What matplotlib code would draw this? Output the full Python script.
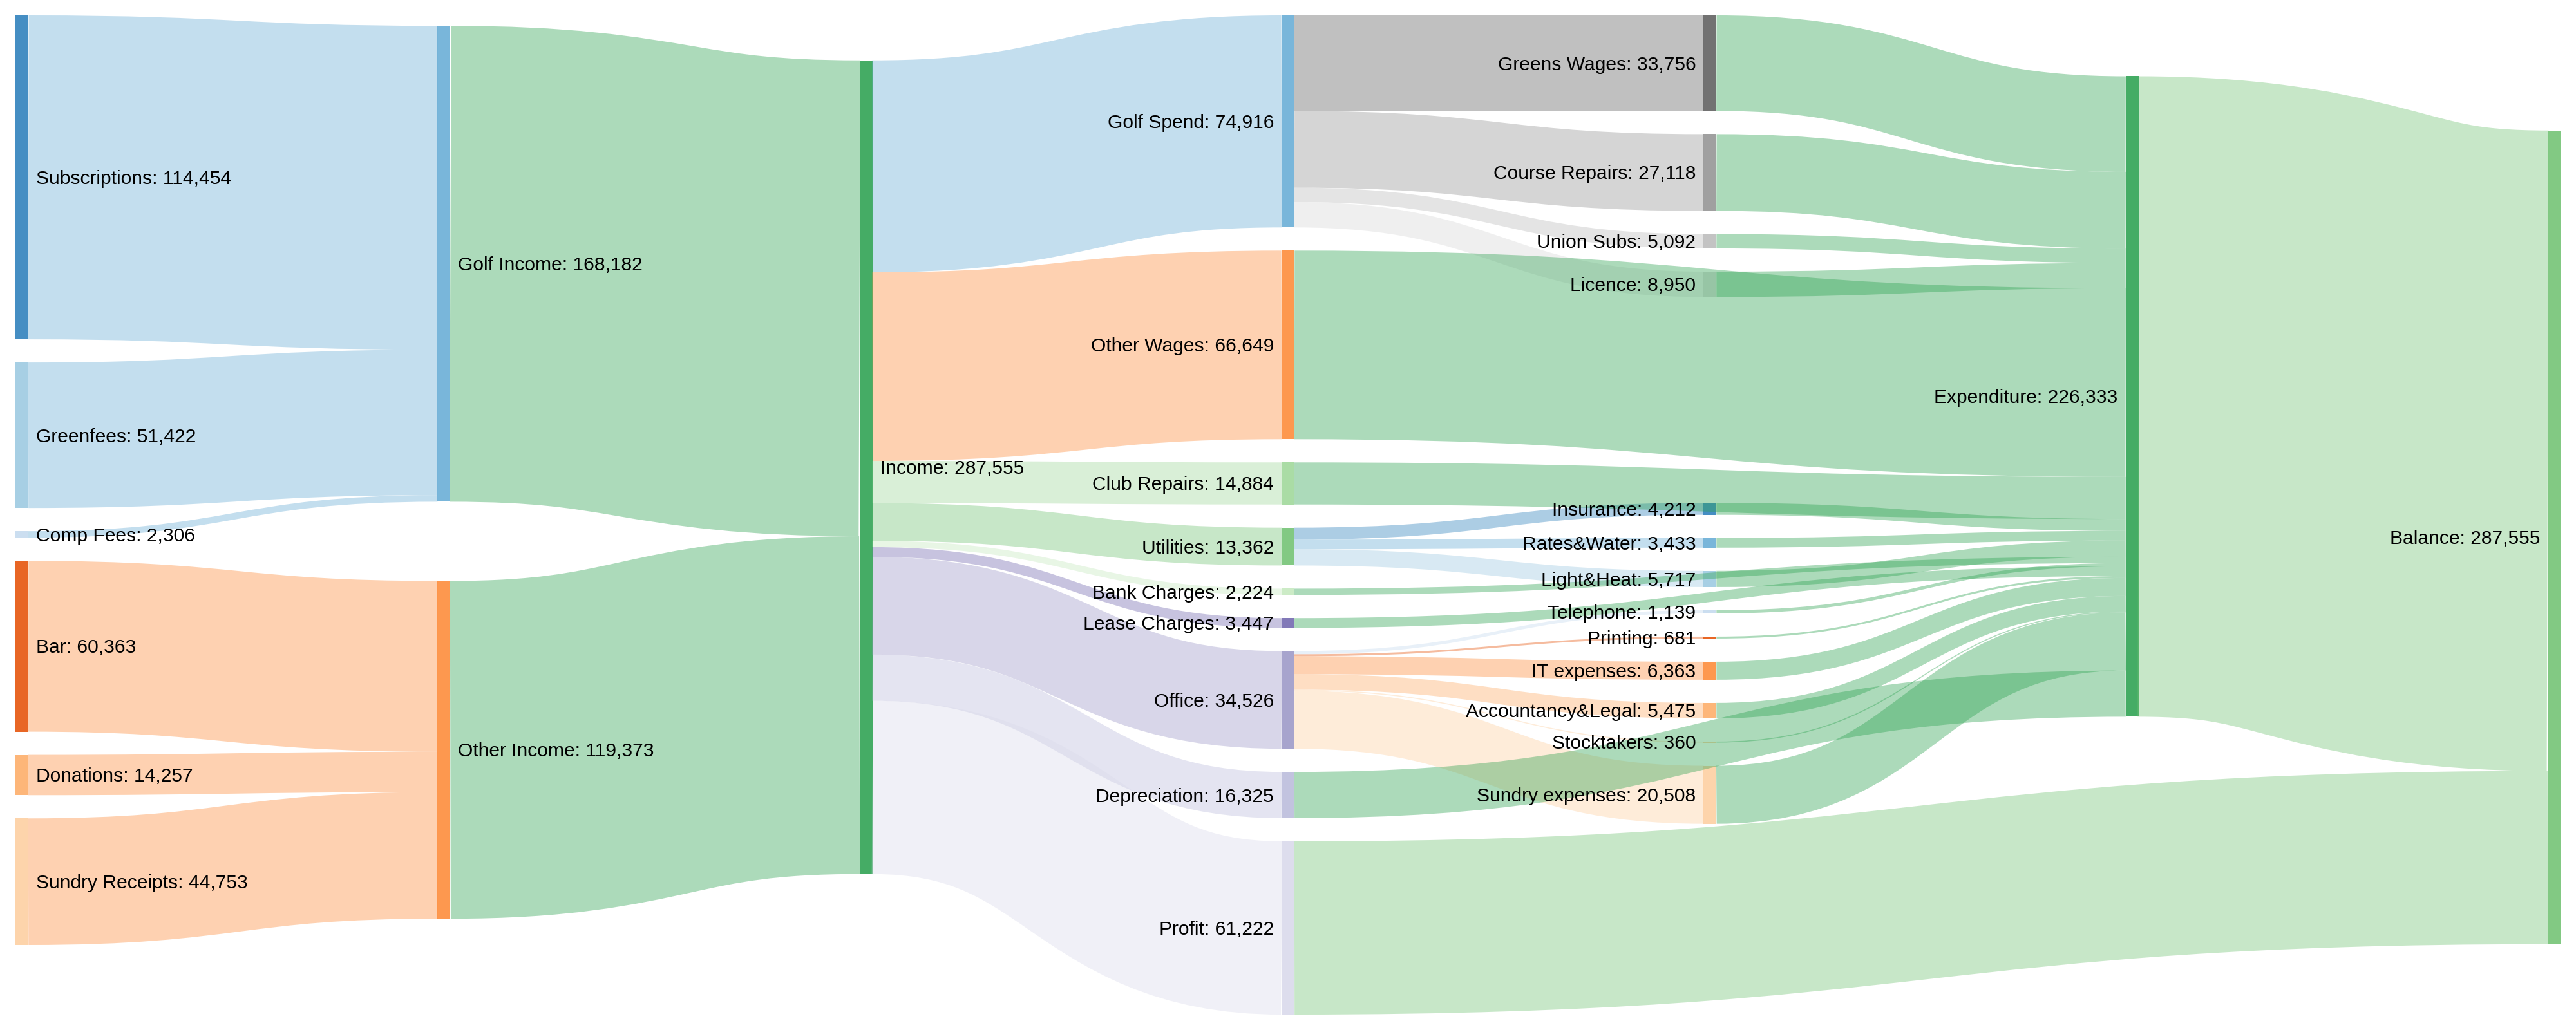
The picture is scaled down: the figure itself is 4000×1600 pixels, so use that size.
import matplotlib.pyplot as plt
from matplotlib.path import Path
from matplotlib.patches import PathPatch, Rectangle

# Nodes in the order of the data (nodes keep this order inside a column)
node_names = ['Subscriptions', 'Greenfees', 'Comp Fees', 'Bar', 'Donations', 'Sundry Receipts',
              'Golf Income', 'Other Income', 'Income',
              'Golf Spend', 'Other Wages', 'Club Repairs', 'Utilities', 'Bank Charges',
              'Lease Charges', 'Office', 'Depreciation', 'Profit',
              'Greens Wages', 'Course Repairs', 'Union Subs', 'Licence', 'Insurance',
              'Rates&Water', 'Light&Heat', 'Telephone', 'Printing', 'IT expenses',
              'Accountancy&Legal', 'Stocktakers', 'Sundry expenses',
              'Expenditure', 'Balance']

node_colors = ['#3182bd', '#9ecae1', '#c6dbef', '#e6550d', '#fdae6b', '#fdd0a2',
               '#6baed6', '#fd8d3c', '#31a354',
               '#6baed6', '#fd8d3c', '#a1d99b', '#74c476', '#c7e9c0',
               '#756bb1', '#9e9ac8', '#bcbddc', '#dadaeb',
               '#636363', '#969696', '#bdbdbd', '#d9d9d9', '#3182bd',
               '#6baed6', '#9ecae1', '#c6dbef', '#e6550d', '#fd8d3c',
               '#fdae6b', '#fdd0a2', '#fdd0a2',
               '#31a354', '#74c476']

link_sources = ['Subscriptions', 'Greenfees', 'Comp Fees',
                'Bar', 'Donations', 'Sundry Receipts',
                'Golf Income', 'Other Income',
                'Income', 'Income', 'Income', 'Income', 'Income', 'Income', 'Income', 'Income', 'Income',
                'Golf Spend', 'Golf Spend', 'Golf Spend', 'Golf Spend',
                'Utilities', 'Utilities', 'Utilities',
                'Office', 'Office', 'Office', 'Office', 'Office', 'Office',
                'Other Wages', 'Club Repairs', 'Bank Charges', 'Lease Charges', 'Depreciation',
                'Greens Wages', 'Course Repairs', 'Union Subs', 'Licence', 'Insurance',
                'Rates&Water', 'Light&Heat', 'Telephone', 'Printing', 'IT expenses',
                'Accountancy&Legal', 'Stocktakers', 'Sundry expenses',
                'Expenditure', 'Profit']
link_targets = ['Golf Income', 'Golf Income', 'Golf Income',
                'Other Income', 'Other Income', 'Other Income',
                'Income', 'Income',
                'Golf Spend', 'Other Wages', 'Club Repairs', 'Utilities', 'Bank Charges',
                'Lease Charges', 'Office', 'Depreciation', 'Profit',
                'Greens Wages', 'Course Repairs', 'Union Subs', 'Licence',
                'Insurance', 'Rates&Water', 'Light&Heat',
                'Telephone', 'Printing', 'IT expenses', 'Accountancy&Legal', 'Stocktakers',
                'Sundry expenses',
                'Expenditure', 'Expenditure', 'Expenditure', 'Expenditure', 'Expenditure',
                'Expenditure', 'Expenditure', 'Expenditure', 'Expenditure', 'Expenditure',
                'Expenditure', 'Expenditure', 'Expenditure', 'Expenditure', 'Expenditure',
                'Expenditure', 'Expenditure', 'Expenditure',
                'Balance', 'Balance']
link_values = [114454, 51422, 2306,
               60363, 14257, 44753,
               168182, 119373,
               74916, 66649, 14884, 13362, 2224, 3447, 34526, 16325, 61222,
               33756, 27118, 5092, 8950,
               4212, 3433, 5717,
               1139, 681, 6363, 5475, 360, 20508,
               66649, 14884, 2224, 3447, 16325,
               33756, 27118, 5092, 8950, 4212,
               3433, 5717, 1139, 681, 6363,
               5475, 360, 20508,
               226333, 61222]

# layout settings (pixels)
W, H = 4000, 1600
X0, Y0, X1, Y1 = 24, 24, 3976, 1576
NODE_W = 20
PAD = 36
ITER = 6

# --- sankey layout (d3-sankey steps, node order fixed) ---
nodes = [{'name': n, 'color': c, 'src': [], 'tgt': []} for n, c in zip(node_names, node_colors)]
idx = {n: i for i, n in enumerate(node_names)}
links = []
for k, (s, t, v) in enumerate(zip(link_sources, link_targets, link_values)):
    l = {'s': nodes[idx[s]], 't': nodes[idx[t]], 'v': v, 'i': k}
    l['s']['src'].append(l)
    l['t']['tgt'].append(l)
    links.append(l)

for n in nodes:
    n['value'] = max(sum(l['v'] for l in n['src']), sum(l['v'] for l in n['tgt']))

current = list(nodes)
depth = 0
while current:
    nxt = []
    for n in current:
        n['depth'] = depth
        for l in n['src']:
            if l['t'] not in nxt:
                nxt.append(l['t'])
    depth += 1
    current = nxt

ncol = max(n['depth'] for n in nodes) + 1
kx = (X1 - X0 - NODE_W) / (ncol - 1)
columns = [[] for _ in range(ncol)]
for n in nodes:
    layer = n['depth'] if n['src'] else ncol - 1
    n['layer'] = layer
    n['x0'] = X0 + layer * kx
    n['x1'] = n['x0'] + NODE_W
    columns[layer].append(n)

py = min(PAD, (Y1 - Y0) / (max(len(c) for c in columns) - 1))


def src_key(l):
    return (l['t']['y0'], l['i'])


def tgt_key(l):
    return (l['s']['y0'], l['i'])


ky = min((Y1 - Y0 - (len(c) - 1) * py) / sum(n['value'] for n in c) for c in columns)
for c in columns:
    y = Y0
    for n in c:
        n['y0'] = y
        n['y1'] = y + n['value'] * ky
        y = n['y1'] + py
        for l in n['src']:
            l['w'] = l['v'] * ky
    y = (Y1 - y + py) / (len(c) + 1)
    for i, n in enumerate(c):
        n['y0'] += y * (i + 1)
        n['y1'] += y * (i + 1)
    # targets further right are not placed yet, so source links keep index order
    for n in c:
        n['src'].sort(key=lambda l: l['i'])
        n['tgt'].sort(key=tgt_key)


def reorder_node_links(node):
    for l in node['tgt']:
        l['s']['src'].sort(key=src_key)
    for l in node['src']:
        l['t']['tgt'].sort(key=tgt_key)


def source_top(source, target):
    y = target['y0'] - (len(target['tgt']) - 1) * py / 2
    for l in target['tgt']:
        if l['s'] is source:
            break
        y += l['w'] + py
    for l in source['src']:
        if l['t'] is target:
            break
        y -= l['w']
    return y


def target_top(source, target):
    y = source['y0'] - (len(source['src']) - 1) * py / 2
    for l in source['src']:
        if l['t'] is target:
            break
        y += l['w'] + py
    for l in target['tgt']:
        if l['s'] is source:
            break
        y -= l['w']
    return y


def push_down(col, y, i, alpha):
    while i < len(col):
        n = col[i]
        dy = (y - n['y0']) * alpha
        if dy > 1e-6:
            n['y0'] += dy
            n['y1'] += dy
        y = n['y1'] + py
        i += 1


def push_up(col, y, i, alpha):
    while i >= 0:
        n = col[i]
        dy = (n['y1'] - y) * alpha
        if dy > 1e-6:
            n['y0'] -= dy
            n['y1'] -= dy
        y = n['y0'] - py
        i -= 1


def resolve_collisions(col, alpha):
    i = len(col) >> 1
    subject = col[i]
    push_up(col, subject['y0'] - py, i - 1, alpha)
    push_down(col, subject['y1'] + py, i + 1, alpha)
    push_up(col, Y1, len(col) - 1, alpha)
    push_down(col, Y0, 0, alpha)


def relax(col, links_key, alpha):
    for n in col:
        y = w = 0
        for l in n[links_key]:
            if links_key == 'src':
                v = l['v'] * (l['t']['layer'] - n['layer'])
                y += source_top(n, l['t']) * v
            else:
                v = l['v'] * (n['layer'] - l['s']['layer'])
                y += target_top(l['s'], n) * v
            w += v
        if not w > 0:
            continue
        dy = (y / w - n['y0']) * alpha
        n['y0'] += dy
        n['y1'] += dy
        reorder_node_links(n)


for it in range(ITER):
    alpha = 0.99 ** it
    beta = max(1 - alpha, (it + 1) / ITER)
    for ci in range(ncol - 2, -1, -1):
        relax(columns[ci], 'src', alpha)
        resolve_collisions(columns[ci], beta)
    for ci in range(1, ncol):
        relax(columns[ci], 'tgt', alpha)
        resolve_collisions(columns[ci], beta)

for n in nodes:
    y0 = y1 = n['y0']
    for l in n['src']:
        l['y0'] = y0 + l['w'] / 2
        y0 += l['w']
    for l in n['tgt']:
        l['y1'] = y1 + l['w'] / 2
        y1 += l['w']

# --- drawing ---
fig = plt.figure(figsize=(W / 100, H / 100), dpi=100)
ax = fig.add_axes([0, 0, 1, 1])
ax.set_xlim(0, W)
ax.set_ylim(H, 0)
ax.axis('off')

px = 72 / 100  # one pixel in points

for n in nodes:
    ax.add_patch(Rectangle((n['x0'], n['y0']), n['x1'] - n['x0'], n['y1'] - n['y0'],
                           facecolor=n['color'], alpha=0.9, linewidth=0, zorder=1))

for l in links:
    xs, xt = l['s']['x1'], l['t']['x0']
    xm = (xs + xt) / 2
    verts = [(xs, l['y0']), (xm, l['y0']), (xm, l['y1']), (xt, l['y1'])]
    path = Path(verts, [Path.MOVETO, Path.CURVE4, Path.CURVE4, Path.CURVE4])
    ax.add_patch(PathPatch(path, facecolor='none', edgecolor=l['t']['color'], alpha=0.4,
                           linewidth=max(1, l['w']) * px, capstyle='butt', zorder=2))

for n in nodes:
    ym = (n['y0'] + n['y1']) / 2 + 10.5
    label = f"{n['name']}: {n['value']:,}"
    if n['layer'] < 3:
        ax.text(n['x1'] + 12, ym, label, ha='left', va='baseline',
                fontsize=30 * px, family='Liberation Sans', color='black', zorder=3)
    else:
        ax.text(n['x0'] - 12, ym, label, ha='right', va='baseline',
                fontsize=30 * px, family='Liberation Sans', color='black', zorder=3)

fig.savefig('out.png', dpi=100)
